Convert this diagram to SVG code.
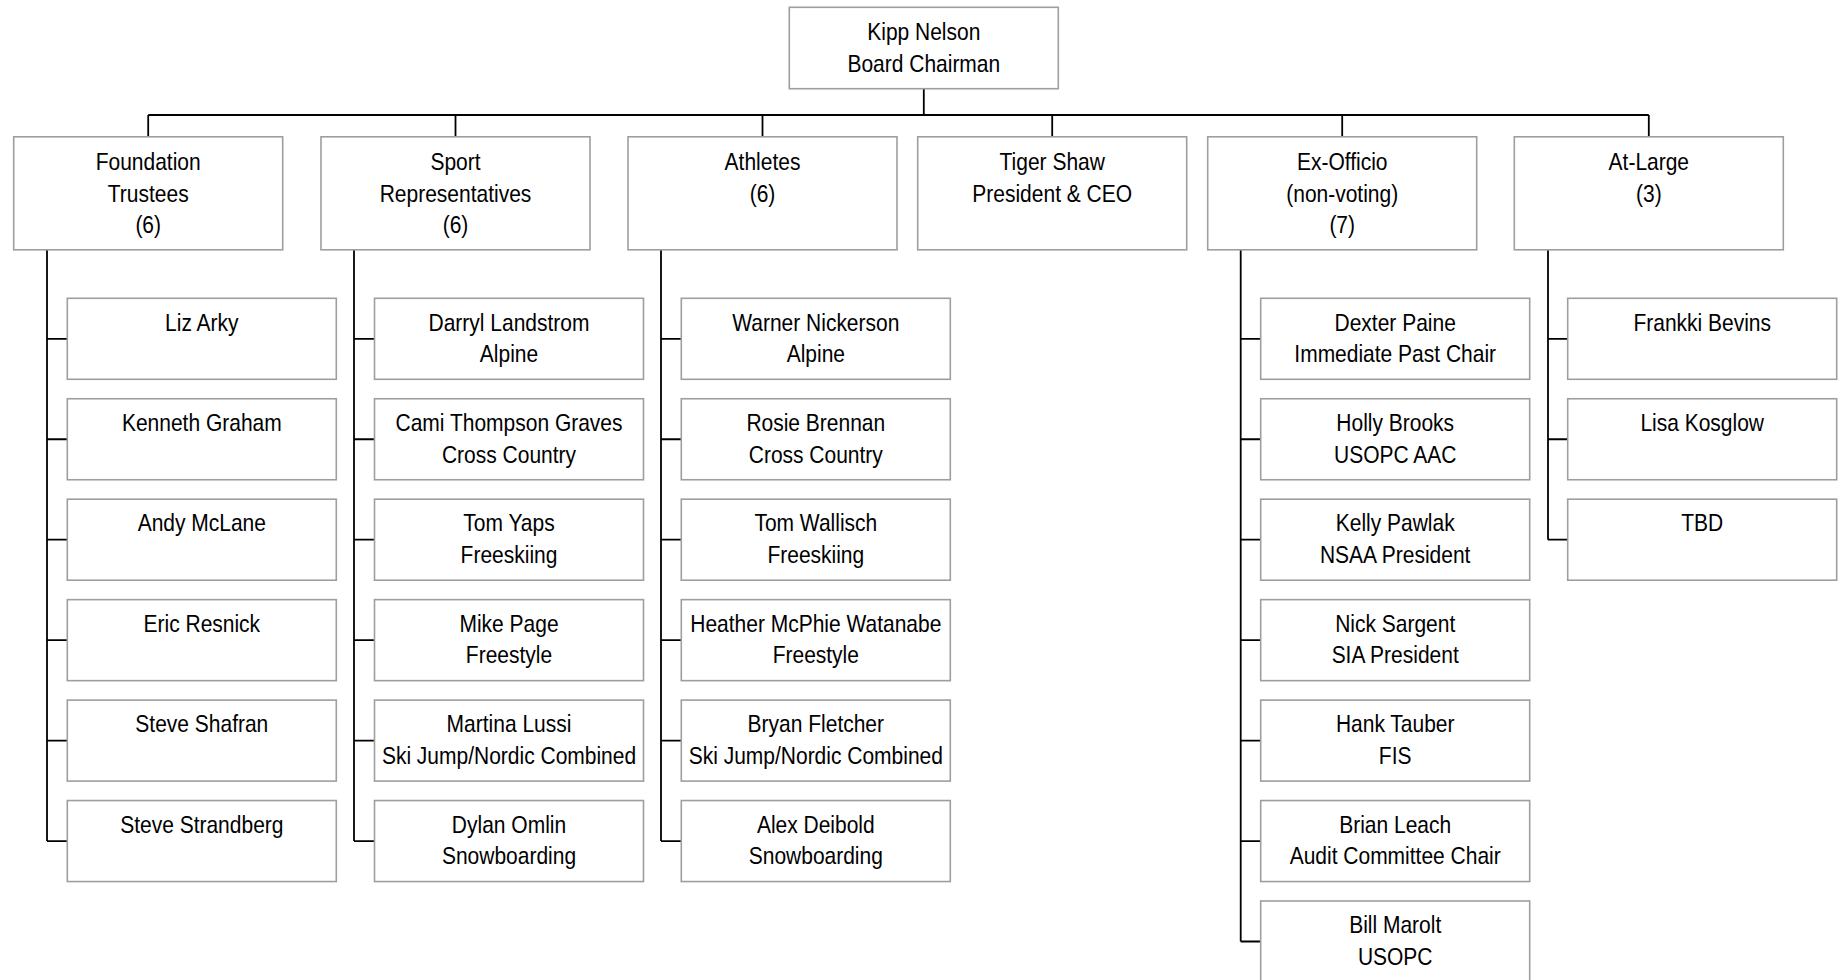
<svg xmlns="http://www.w3.org/2000/svg" width="1843" height="980" viewBox="0 0 1843 980">
<style>
rect.b{fill:#fff;stroke:#9e9e9e;stroke-width:1.6}
text{font-family:"Liberation Sans",Arial,sans-serif;font-size:24px;fill:#000;text-anchor:middle}
.c{fill:none;stroke:#000;stroke-width:1.8}
</style>
<rect width="1843" height="980" fill="#fff"/>
<g id="connectors" class="c">
<path d="M923.8 88.7V115M148.2 115H1648.8M148.2 115V136.8M455.5 115V136.8M762.5 115V136.8M1052.2 115V136.8M1342.2 115V136.8M1648.8 115V136.8"/>
<path d="M47 249.8V841.05M47 338.8H67.3M47 439.25H67.3M47 539.7H67.3M47 640.15H67.3M47 740.6H67.3M47 841.05H67.3"/>
<path d="M354 249.8V841.05M354 338.8H374.5M354 439.25H374.5M354 539.7H374.5M354 640.15H374.5M354 740.6H374.5M354 841.05H374.5"/>
<path d="M661 249.8V841.05M661 338.8H681.3M661 439.25H681.3M661 539.7H681.3M661 640.15H681.3M661 740.6H681.3M661 841.05H681.3"/>
<path d="M1240.7 249.8V941.5M1240.7 338.8H1260.7M1240.7 439.25H1260.7M1240.7 539.7H1260.7M1240.7 640.15H1260.7M1240.7 740.6H1260.7M1240.7 841.05H1260.7M1240.7 941.5H1260.7"/>
<path d="M1548 249.8V539.7M1548 338.8H1567.7M1548 439.25H1567.7M1548 539.7H1567.7"/>
</g>
<g id="chairman"><rect class="b" x="789.3" y="7.3" width="269" height="81.4"/><text transform="matrix(0.875 0 0 1 923.8 0)"><tspan x="0" y="40">Kipp Nelson</tspan><tspan x="0" y="71.7">Board Chairman</tspan></text></g>
<g id="foundation"><rect class="b" x="13.7" y="136.8" width="269" height="113"/><text transform="matrix(0.875 0 0 1 148.2 0)"><tspan x="0" y="170">Foundation</tspan><tspan x="0" y="201.7">Trustees</tspan><tspan x="0" y="233.4">(6)</tspan></text></g>
<g id="sport"><rect class="b" x="321" y="136.8" width="269" height="113"/><text transform="matrix(0.875 0 0 1 455.5 0)"><tspan x="0" y="170">Sport</tspan><tspan x="0" y="201.7">Representatives</tspan><tspan x="0" y="233.4">(6)</tspan></text></g>
<g id="athletes"><rect class="b" x="628" y="136.8" width="269" height="113"/><text transform="matrix(0.875 0 0 1 762.5 0)"><tspan x="0" y="170">Athletes</tspan><tspan x="0" y="201.7">(6)</tspan></text></g>
<g id="tiger"><rect class="b" x="917.7" y="136.8" width="269" height="113"/><text transform="matrix(0.875 0 0 1 1052.2 0)"><tspan x="0" y="170">Tiger Shaw</tspan><tspan x="0" y="201.7">President &amp; CEO</tspan></text></g>
<g id="exofficio"><rect class="b" x="1207.7" y="136.8" width="269" height="113"/><text transform="matrix(0.875 0 0 1 1342.2 0)"><tspan x="0" y="170">Ex-Officio</tspan><tspan x="0" y="201.7">(non-voting)</tspan><tspan x="0" y="233.4">(7)</tspan></text></g>
<g id="atlarge"><rect class="b" x="1514.3" y="136.8" width="269" height="113"/><text transform="matrix(0.875 0 0 1 1648.8 0)"><tspan x="0" y="170">At-Large</tspan><tspan x="0" y="201.7">(3)</tspan></text></g>

<g id="liz"><rect class="b" x="67.3" y="298.3" width="269" height="81"/><text transform="matrix(0.875 0 0 1 201.8 0)"><tspan x="0" y="330.6">Liz Arky</tspan></text></g>
<g id="kenneth"><rect class="b" x="67.3" y="398.75" width="269" height="81"/><text transform="matrix(0.875 0 0 1 201.8 0)"><tspan x="0" y="431.05">Kenneth Graham</tspan></text></g>
<g id="andy"><rect class="b" x="67.3" y="499.2" width="269" height="81"/><text transform="matrix(0.875 0 0 1 201.8 0)"><tspan x="0" y="531.5">Andy McLane</tspan></text></g>
<g id="eric"><rect class="b" x="67.3" y="599.65" width="269" height="81"/><text transform="matrix(0.875 0 0 1 201.8 0)"><tspan x="0" y="631.95">Eric Resnick</tspan></text></g>
<g id="shafran"><rect class="b" x="67.3" y="700.1" width="269" height="81"/><text transform="matrix(0.875 0 0 1 201.8 0)"><tspan x="0" y="732.4">Steve Shafran</tspan></text></g>
<g id="strandberg"><rect class="b" x="67.3" y="800.55" width="269" height="81"/><text transform="matrix(0.875 0 0 1 201.8 0)"><tspan x="0" y="832.85">Steve Strandberg</tspan></text></g>

<g id="darryl"><rect class="b" x="374.5" y="298.3" width="269" height="81"/><text transform="matrix(0.875 0 0 1 509 0)"><tspan x="0" y="330.6">Darryl Landstrom</tspan><tspan x="0" y="362.1">Alpine</tspan></text></g>
<g id="cami"><rect class="b" x="374.5" y="398.75" width="269" height="81"/><text transform="matrix(0.875 0 0 1 509 0)"><tspan x="0" y="431.05">Cami Thompson Graves</tspan><tspan x="0" y="462.55">Cross Country</tspan></text></g>
<g id="yaps"><rect class="b" x="374.5" y="499.2" width="269" height="81"/><text transform="matrix(0.875 0 0 1 509 0)"><tspan x="0" y="531.5">Tom Yaps</tspan><tspan x="0" y="563">Freeskiing</tspan></text></g>
<g id="page"><rect class="b" x="374.5" y="599.65" width="269" height="81"/><text transform="matrix(0.875 0 0 1 509 0)"><tspan x="0" y="631.95">Mike Page</tspan><tspan x="0" y="663.45">Freestyle</tspan></text></g>
<g id="lussi"><rect class="b" x="374.5" y="700.1" width="269" height="81"/><text transform="matrix(0.875 0 0 1 509 0)"><tspan x="0" y="732.4">Martina Lussi</tspan><tspan x="0" y="763.9">Ski Jump/Nordic Combined</tspan></text></g>
<g id="omlin"><rect class="b" x="374.5" y="800.55" width="269" height="81"/><text transform="matrix(0.875 0 0 1 509 0)"><tspan x="0" y="832.85">Dylan Omlin</tspan><tspan x="0" y="864.35">Snowboarding</tspan></text></g>

<g id="warner"><rect class="b" x="681.3" y="298.3" width="269" height="81"/><text transform="matrix(0.875 0 0 1 815.8 0)"><tspan x="0" y="330.6">Warner Nickerson</tspan><tspan x="0" y="362.1">Alpine</tspan></text></g>
<g id="rosie"><rect class="b" x="681.3" y="398.75" width="269" height="81"/><text transform="matrix(0.875 0 0 1 815.8 0)"><tspan x="0" y="431.05">Rosie Brennan</tspan><tspan x="0" y="462.55">Cross Country</tspan></text></g>
<g id="wallisch"><rect class="b" x="681.3" y="499.2" width="269" height="81"/><text transform="matrix(0.875 0 0 1 815.8 0)"><tspan x="0" y="531.5">Tom Wallisch</tspan><tspan x="0" y="563">Freeskiing</tspan></text></g>
<g id="heather"><rect class="b" x="681.3" y="599.65" width="269" height="81"/><text transform="matrix(0.875 0 0 1 815.8 0)"><tspan x="0" y="631.95">Heather McPhie Watanabe</tspan><tspan x="0" y="663.45">Freestyle</tspan></text></g>
<g id="fletcher"><rect class="b" x="681.3" y="700.1" width="269" height="81"/><text transform="matrix(0.875 0 0 1 815.8 0)"><tspan x="0" y="732.4">Bryan Fletcher</tspan><tspan x="0" y="763.9">Ski Jump/Nordic Combined</tspan></text></g>
<g id="deibold"><rect class="b" x="681.3" y="800.55" width="269" height="81"/><text transform="matrix(0.875 0 0 1 815.8 0)"><tspan x="0" y="832.85">Alex Deibold</tspan><tspan x="0" y="864.35">Snowboarding</tspan></text></g>

<g id="dexter"><rect class="b" x="1260.7" y="298.3" width="269" height="81"/><text transform="matrix(0.875 0 0 1 1395.2 0)"><tspan x="0" y="330.6">Dexter Paine</tspan><tspan x="0" y="362.1">Immediate Past Chair</tspan></text></g>
<g id="holly"><rect class="b" x="1260.7" y="398.75" width="269" height="81"/><text transform="matrix(0.875 0 0 1 1395.2 0)"><tspan x="0" y="431.05">Holly Brooks</tspan><tspan x="0" y="462.55">USOPC AAC</tspan></text></g>
<g id="kelly"><rect class="b" x="1260.7" y="499.2" width="269" height="81"/><text transform="matrix(0.875 0 0 1 1395.2 0)"><tspan x="0" y="531.5">Kelly Pawlak</tspan><tspan x="0" y="563">NSAA President</tspan></text></g>
<g id="nick"><rect class="b" x="1260.7" y="599.65" width="269" height="81"/><text transform="matrix(0.875 0 0 1 1395.2 0)"><tspan x="0" y="631.95">Nick Sargent</tspan><tspan x="0" y="663.45">SIA President</tspan></text></g>
<g id="hank"><rect class="b" x="1260.7" y="700.1" width="269" height="81"/><text transform="matrix(0.875 0 0 1 1395.2 0)"><tspan x="0" y="732.4">Hank Tauber</tspan><tspan x="0" y="763.9">FIS</tspan></text></g>
<g id="brian"><rect class="b" x="1260.7" y="800.55" width="269" height="81"/><text transform="matrix(0.875 0 0 1 1395.2 0)"><tspan x="0" y="832.85">Brian Leach</tspan><tspan x="0" y="864.35">Audit Committee Chair</tspan></text></g>
<g id="bill"><rect class="b" x="1260.7" y="901" width="269" height="81"/><text transform="matrix(0.875 0 0 1 1395.2 0)"><tspan x="0" y="933.3">Bill Marolt</tspan><tspan x="0" y="964.8">USOPC</tspan></text></g>

<g id="frankki"><rect class="b" x="1567.7" y="298.3" width="269" height="81"/><text transform="matrix(0.875 0 0 1 1702.2 0)"><tspan x="0" y="330.6">Frankki Bevins</tspan></text></g>
<g id="lisa"><rect class="b" x="1567.7" y="398.75" width="269" height="81"/><text transform="matrix(0.875 0 0 1 1702.2 0)"><tspan x="0" y="431.05">Lisa Kosglow</tspan></text></g>
<g id="tbd"><rect class="b" x="1567.7" y="499.2" width="269" height="81"/><text transform="matrix(0.875 0 0 1 1702.2 0)"><tspan x="0" y="531.5">TBD</tspan></text></g>
</svg>
